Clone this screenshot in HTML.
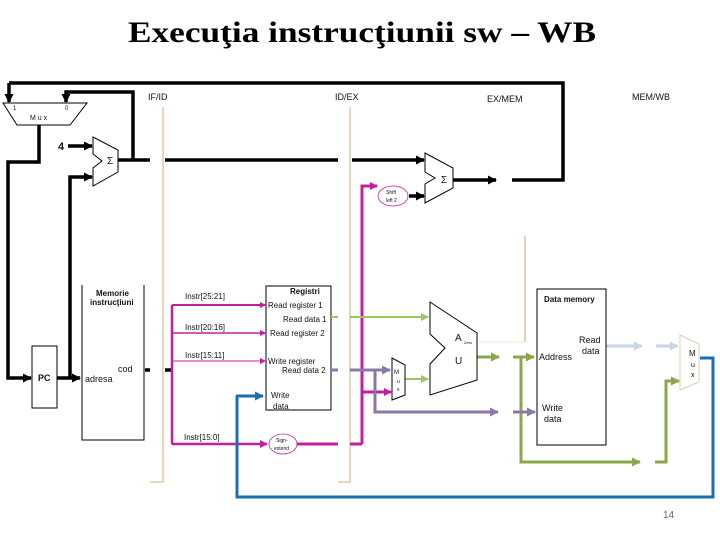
<!DOCTYPE html>
<html><head><meta charset="utf-8"><style>
body{margin:0;background:#fff;width:720px;height:540px;overflow:hidden}
text{font-family:"Liberation Sans",sans-serif;font-size:9px;fill:#111}
</style></head><body>
<svg width="720" height="540" viewBox="0 0 720 540" xmlns="http://www.w3.org/2000/svg">
<defs>
<marker id="ak" markerWidth="9" markerHeight="9" refX="8" refY="4.5" orient="auto" markerUnits="userSpaceOnUse"><path d="M0,0 L9,4.5 L0,9z" fill="#000"/></marker>
<marker id="am" markerWidth="8" markerHeight="8" refX="7" refY="4" orient="auto" markerUnits="userSpaceOnUse"><path d="M0,0 L8,4 L0,8z" fill="#c020a0"/></marker>
<marker id="ams" markerWidth="6" markerHeight="6" refX="5" refY="3" orient="auto" markerUnits="userSpaceOnUse"><path d="M0,0 L6,3 L0,6z" fill="#c020a0"/></marker>
<marker id="ag" markerWidth="9" markerHeight="9" refX="8" refY="4.5" orient="auto" markerUnits="userSpaceOnUse"><path d="M0,0 L9,4.5 L0,9z" fill="#8aa84a"/></marker>
<marker id="agl" markerWidth="8" markerHeight="8" refX="7" refY="4" orient="auto" markerUnits="userSpaceOnUse"><path d="M0,0 L8,4 L0,8z" fill="#9ac860"/></marker>
<marker id="ap" markerWidth="9" markerHeight="9" refX="8" refY="4.5" orient="auto" markerUnits="userSpaceOnUse"><path d="M0,0 L9,4.5 L0,9z" fill="#8a78a8"/></marker>
<marker id="ab" markerWidth="9" markerHeight="9" refX="8" refY="4.5" orient="auto" markerUnits="userSpaceOnUse"><path d="M0,0 L9,4.5 L0,9z" fill="#1a6fb0"/></marker>
<marker id="al" markerWidth="9" markerHeight="9" refX="8" refY="4.5" orient="auto" markerUnits="userSpaceOnUse"><path d="M0,0 L9,4.5 L0,9z" fill="#c8d6e6"/></marker>
</defs>
<text x="128" y="42" textLength="468" lengthAdjust="spacingAndGlyphs" style="font-family:'Liberation Serif',serif;font-size:30px;font-weight:bold;fill:#000">Execuţia instrucţiunii sw – WB</text>

<g stroke="#e0c8a0" stroke-width="1.5" fill="none">
<path d="M163,107 V482 H150"/><path d="M350,107 V482 H338"/>
</g>
<text x="148" y="100">IF/ID</text><text x="335" y="100">ID/EX</text><text x="487" y="102">EX/MEM</text><text x="632" y="100">MEM/WB</text>

<g stroke="#000" stroke-width="3.5" fill="none">
<path d="M9,83 H563 V180 H512"/>
<path d="M9,83 V102" marker-end="url(#ak)"/>
<path d="M133,160 V92 H66 V102" marker-end="url(#ak)"/>
<path d="M39,125 V162 H8 V378 H31" marker-end="url(#ak)"/>
<path d="M57,378 H80" marker-end="url(#ak)"/>
<path d="M70,378 V177 H92" marker-end="url(#ak)"/>
<path d="M68,146 H92" marker-end="url(#ak)"/>
<path d="M118,160 H150 M165,160 H338 M352,160 H424" marker-end="url(#ak)"/>
<path d="M453,180 H496" marker-end="url(#ak)"/>
<path d="M409,196 H424" marker-end="url(#ak)"/>
<path d="M145,370 H150 M165,370 H172"/>
</g>
<text x="58" y="150" style="font-size:11px;font-weight:bold">4</text>
<path d="M3,103 H87 L70,125 H17 Z" fill="#fff" stroke="#000"/>
<text x="13" y="110" style="font-size:6px">1</text><text x="65" y="110" style="font-size:6px">0</text>
<text x="30" y="120" style="font-size:7px">M u x</text>
<path d="M93,137 L118,150 V172 L93,186 V168 L102,161 L93,154 Z" fill="#fff" stroke="#000"/>
<text x="107" y="164" style="font-size:10px">Σ</text>
<path d="M425,153 L453,168 V188 L425,203 V184 L435,178 L425,172 Z" fill="#fff" stroke="#000"/>
<text x="441" y="183" style="font-size:10px">Σ</text>

<rect x="32" y="346" width="25" height="62" fill="#fff" stroke="#000"/>
<text x="38" y="381" style="font-weight:bold">PC</text>
<path d="M82,285 V440 H144 V285" fill="none" stroke="#000"/>
<text x="96" y="296" style="font-size:8px;font-weight:bold">Memorie</text>
<text x="90" y="305" style="font-size:8px;font-weight:bold">instrucţiuni</text>
<text x="118" y="372">cod</text><text x="85" y="382">adresa</text>

<rect x="266" y="286" width="65" height="124" fill="#fff" stroke="#000"/>
<text x="290" y="294" style="font-size:8px;font-weight:bold">Registri</text>
<text x="268" y="308" style="font-size:8px">Read register 1</text>
<text x="283" y="322" style="font-size:8px">Read data 1</text>
<text x="270" y="336" style="font-size:8px">Read register 2</text>
<text x="268" y="364" style="font-size:8px">Write register</text>
<text x="282" y="373" style="font-size:8px">Read data 2</text>
<text x="271" y="398" style="font-size:8px">Write</text><text x="273" y="409" style="font-size:8px">data</text>

<g stroke="#c020a0" fill="none">
<path d="M172,305 V444" stroke-width="2.5"/>
<path d="M172,305 H265" stroke-width="2" marker-end="url(#ams)"/>
<path d="M172,333 H265" stroke-width="1.5" marker-end="url(#ams)"/>
<path d="M172,361 H265" stroke-width="1" marker-end="url(#ams)"/>
<path d="M172,444 H267" stroke-width="2.5" marker-end="url(#am)"/>
<path d="M297,444 H338 M350,444 H362" stroke-width="3"/>
<path d="M362,444 V186 H377" stroke-width="3" marker-end="url(#am)"/>
<path d="M362,392 H391" stroke-width="3" marker-end="url(#am)"/>
</g>
<text x="185" y="299" style="font-size:8px">Instr[25:21]</text>
<text x="185" y="330" style="font-size:8px">Instr[20:16]</text>
<text x="185" y="358" style="font-size:8px">Instr[15:11]</text>
<text x="184" y="440" style="font-size:8px">Instr[15:0]</text>
<ellipse cx="283" cy="444" rx="14" ry="10" fill="#fff" stroke="#c020a0" stroke-width="0.8"/>
<text x="276" y="442" style="font-size:5px">Sign-</text><text x="274" y="450" style="font-size:5px">extend</text>
<ellipse cx="393" cy="196" rx="15" ry="10" fill="#fff" stroke="#c020a0" stroke-width="0.8"/>
<text x="386" y="194" style="font-size:5px">Shift</text><text x="386" y="202" style="font-size:5px">left 2</text>

<path d="M237,396 V497 H713 V358 H700" fill="none" stroke="#1a6fb0" stroke-width="3"/>
<path d="M236,396 H263" stroke="#1a6fb0" stroke-width="3" marker-end="url(#ab)"/>

<g stroke="#9ac860" stroke-width="2" fill="none">
<path d="M331,317 H338 M350,317 H428" marker-end="url(#agl)"/>
<path d="M405,379 H428" marker-end="url(#agl)"/>
</g>
<g stroke="#8aa84a" stroke-width="3" fill="none">
<path d="M477,357 H499" marker-end="url(#ag)"/>
<path d="M513,357 H534" marker-end="url(#ag)"/>
<path d="M521,357 V462 H640" marker-end="url(#ag)"/>
<path d="M655,462 H666 V381 H679" marker-end="url(#ag)"/>
</g>
<g stroke="#8a78a8" stroke-width="3" fill="none">
<path d="M331,370 H338 M350,370 H390" marker-end="url(#ap)"/>
<path d="M375,370 V412 H498" marker-end="url(#ap)"/>
<path d="M513,412 H535" marker-end="url(#ap)"/>
</g>
<g stroke="#c8d6e6" stroke-width="3" fill="none">
<path d="M606,346 H642" marker-end="url(#al)"/>
<path d="M656,346 H678" marker-end="url(#al)"/>
</g>
<path d="M525,342 V236" stroke="#e0a060" stroke-width="1" fill="none"/>
<path d="M478,342 H525" stroke="#e8e8e0" stroke-width="1"/>

<path d="M430,302 L477,333 V380 L430,395 V364 L445,348 L430,334 Z" fill="#fff" stroke="#000"/>
<text x="455" y="341" style="font-size:10px">A</text><text x="455" y="364" style="font-size:10px">U</text>
<text x="464" y="344" style="font-size:4px">Zero</text>
<path d="M392,358 L405,365 V395 L392,400 Z" fill="#fff" stroke="#000"/>
<text x="394" y="374" style="font-size:6px">M</text><text x="397" y="383" style="font-size:5px">u</text><text x="397" y="391" style="font-size:5px">x</text>
<rect x="537" y="289" width="69" height="156" fill="#fff" stroke="#000"/>
<text x="544" y="302" style="font-size:8px;font-weight:bold">Data memory</text>
<text x="579" y="343">Read</text><text x="582" y="354">data</text>
<text x="539" y="360">Address</text>
<text x="542" y="411">Write</text><text x="544" y="422">data</text>
<path d="M680,335 L699,344 V382 L680,390 Z" fill="#fff" stroke="#d8d0b8"/>
<text x="689" y="356" style="font-size:8px">M</text><text x="691" y="367" style="font-size:7px">u</text><text x="691" y="377" style="font-size:7px">x</text>

<text x="663" y="518" style="font-size:10px;fill:#666">14</text>
</svg>
</body></html>
